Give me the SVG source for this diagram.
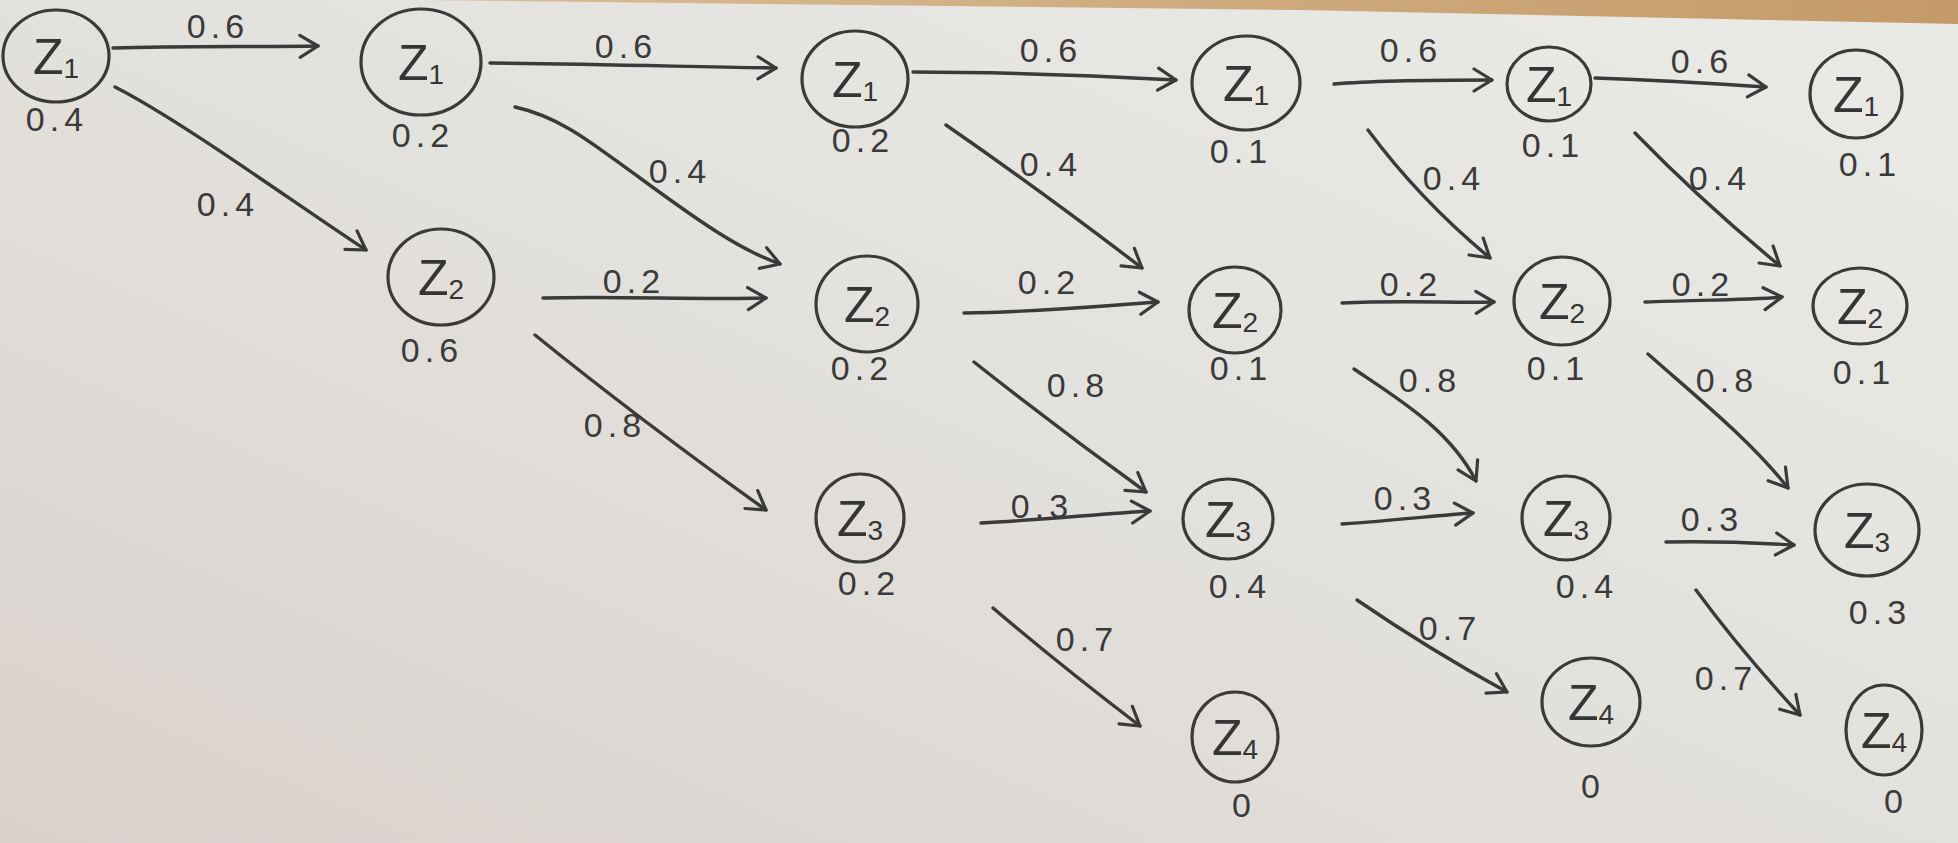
<svg xmlns="http://www.w3.org/2000/svg" width="1958" height="843" viewBox="0 0 1958 843">
<defs>
<linearGradient id="paper" x1="0" y1="1" x2="1" y2="0">
<stop offset="0" stop-color="#d9d1cc"/>
<stop offset="0.5" stop-color="#e3e1dd"/>
<stop offset="1" stop-color="#eaeae6"/>
</linearGradient>
<linearGradient id="wood" x1="0" y1="0" x2="1" y2="0">
<stop offset="0" stop-color="#d9bd95"/>
<stop offset="1" stop-color="#c49a68"/>
</linearGradient>
<marker id="head" markerUnits="userSpaceOnUse" markerWidth="28" markerHeight="28" viewBox="0 0 28 28" refX="23" refY="14" orient="auto">
<path d="M5,3 L23,14 L5,25" fill="none" stroke="#3a3a3a" stroke-width="3.2" stroke-linecap="round" stroke-linejoin="round"/>
</marker>
<style>
.node ellipse{fill:none;stroke:#3a3a3a;stroke-width:3.2}
.zt{font-family:"Liberation Sans","DejaVu Sans",sans-serif;font-size:50px;fill:#353535;text-anchor:middle}
.zt tspan{font-size:28px}
.lbl{font-family:"Liberation Sans","DejaVu Sans",sans-serif;font-size:34px;fill:#3a3a3a;text-anchor:middle;letter-spacing:5px}
.edge{fill:none;stroke:#3a3a3a;stroke-width:3.4;stroke-linecap:round;marker-end:url(#head)}
</style>
</defs>
<rect x="0" y="0" width="1958" height="843" fill="url(#paper)"/>
<polygon points="420,0 1958,0 1958,24 1300,10" fill="url(#wood)"/>

<g id="connectors">
<path class="edge" d="M113,48 C180,46 260,47 318,46"/>
<path class="edge" d="M490,63 C600,64 700,67 776,68"/>
<path class="edge" d="M913,72 C1000,72 1100,76 1176,80"/>
<path class="edge" d="M1334,84 C1380,80 1440,80 1492,80"/>
<path class="edge" d="M1595,78 C1650,80 1720,84 1766,87"/>
<path class="edge" d="M115,87 C180,120 290,200 366,250"/>
<path class="edge" d="M515,107 C565,118 600,150 640,178 C700,222 740,250 780,264"/>
<path class="edge" d="M946,125 Q1040,190 1142,268"/>
<path class="edge" d="M1368,130 Q1420,200 1490,258"/>
<path class="edge" d="M1635,133 Q1700,200 1780,266"/>
<path class="edge" d="M543,298 C620,296 700,300 766,298"/>
<path class="edge" d="M964,313 C1040,312 1100,306 1158,302"/>
<path class="edge" d="M1342,303 C1400,300 1450,303 1494,302"/>
<path class="edge" d="M1645,302 C1700,300 1750,300 1782,297"/>
<path class="edge" d="M535,335 Q640,420 766,510"/>
<path class="edge" d="M974,362 Q1060,430 1146,492"/>
<path class="edge" d="M1354,369 C1400,400 1450,430 1476,481"/>
<path class="edge" d="M1648,354 C1700,400 1750,440 1788,488"/>
<path class="edge" d="M981,523 C1040,520 1100,514 1150,511"/>
<path class="edge" d="M1342,524 C1400,520 1440,515 1473,513"/>
<path class="edge" d="M1666,542 C1720,541 1760,543 1794,545"/>
<path class="edge" d="M993,608 Q1060,665 1140,726"/>
<path class="edge" d="M1357,600 Q1430,650 1507,692"/>
<path class="edge" d="M1696,590 Q1740,650 1800,715"/>
<text class="lbl" x="218" y="38">0.6</text>
<text class="lbl" x="626" y="58">0.6</text>
<text class="lbl" x="1051" y="62">0.6</text>
<text class="lbl" x="1411" y="62">0.6</text>
<text class="lbl" x="1702" y="73">0.6</text>
<text class="lbl" x="228" y="216">0.4</text>
<text class="lbl" x="680" y="183">0.4</text>
<text class="lbl" x="1051" y="176">0.4</text>
<text class="lbl" x="1454" y="190">0.4</text>
<text class="lbl" x="1720" y="190">0.4</text>
<text class="lbl" x="634" y="293">0.2</text>
<text class="lbl" x="1049" y="294">0.2</text>
<text class="lbl" x="1411" y="296">0.2</text>
<text class="lbl" x="1703" y="296">0.2</text>
<text class="lbl" x="615" y="437">0.8</text>
<text class="lbl" x="1078" y="397">0.8</text>
<text class="lbl" x="1430" y="392">0.8</text>
<text class="lbl" x="1727" y="392">0.8</text>
<text class="lbl" x="1042" y="518">0.3</text>
<text class="lbl" x="1405" y="510">0.3</text>
<text class="lbl" x="1712" y="531">0.3</text>
<text class="lbl" x="1087" y="651">0.7</text>
<text class="lbl" x="1450" y="640">0.7</text>
<text class="lbl" x="1726" y="690">0.7</text>
</g>

<g id="c1z1" class="node"><ellipse cx="56" cy="56" rx="53" ry="46"/><text class="zt" x="56" y="74">Z<tspan dy="4">1</tspan></text><text class="lbl" x="57" y="131">0.4</text></g>
<g id="c2z1" class="node"><ellipse cx="421" cy="62" rx="60" ry="53"/><text class="zt" x="421" y="80">Z<tspan dy="4">1</tspan></text><text class="lbl" x="423" y="147">0.2</text></g>
<g id="c2z2" class="node"><ellipse cx="441" cy="277" rx="53" ry="48"/><text class="zt" x="441" y="295">Z<tspan dy="4">2</tspan></text><text class="lbl" x="432" y="362">0.6</text></g>
<g id="c3z1" class="node"><ellipse cx="855" cy="79" rx="53" ry="48"/><text class="zt" x="855" y="97">Z<tspan dy="4">1</tspan></text><text class="lbl" x="863" y="152">0.2</text></g>
<g id="c3z2" class="node"><ellipse cx="867" cy="304" rx="51" ry="48"/><text class="zt" x="867" y="322">Z<tspan dy="4">2</tspan></text><text class="lbl" x="862" y="380">0.2</text></g>
<g id="c3z3" class="node"><ellipse cx="860" cy="518" rx="44" ry="44"/><text class="zt" x="860" y="536">Z<tspan dy="4">3</tspan></text><text class="lbl" x="869" y="595">0.2</text></g>
<g id="c4z1" class="node"><ellipse cx="1246" cy="83" rx="54" ry="47"/><text class="zt" x="1246" y="101">Z<tspan dy="4">1</tspan></text><text class="lbl" x="1241" y="163">0.1</text></g>
<g id="c4z2" class="node"><ellipse cx="1235" cy="310" rx="46" ry="43"/><text class="zt" x="1235" y="328">Z<tspan dy="4">2</tspan></text><text class="lbl" x="1241" y="380">0.1</text></g>
<g id="c4z3" class="node"><ellipse cx="1228" cy="519" rx="45" ry="40"/><text class="zt" x="1228" y="537">Z<tspan dy="4">3</tspan></text><text class="lbl" x="1240" y="598">0.4</text></g>
<g id="c4z4" class="node"><ellipse cx="1235" cy="737" rx="43" ry="45"/><text class="zt" x="1235" y="755">Z<tspan dy="4">4</tspan></text><text class="lbl" x="1244" y="817">0</text></g>
<g id="c5z1" class="node"><ellipse cx="1549" cy="84" rx="42" ry="37"/><text class="zt" x="1549" y="102">Z<tspan dy="4">1</tspan></text><text class="lbl" x="1553" y="157">0.1</text></g>
<g id="c5z2" class="node"><ellipse cx="1562" cy="301" rx="48" ry="44"/><text class="zt" x="1562" y="319">Z<tspan dy="4">2</tspan></text><text class="lbl" x="1558" y="380">0.1</text></g>
<g id="c5z3" class="node"><ellipse cx="1566" cy="518" rx="44" ry="42"/><text class="zt" x="1566" y="536">Z<tspan dy="4">3</tspan></text><text class="lbl" x="1587" y="598">0.4</text></g>
<g id="c5z4" class="node"><ellipse cx="1591" cy="702" rx="49" ry="44"/><text class="zt" x="1591" y="720">Z<tspan dy="4">4</tspan></text><text class="lbl" x="1593" y="798">0</text></g>
<g id="c6z1" class="node"><ellipse cx="1856" cy="94" rx="46" ry="44"/><text class="zt" x="1856" y="112">Z<tspan dy="4">1</tspan></text><text class="lbl" x="1870" y="176">0.1</text></g>
<g id="c6z2" class="node"><ellipse cx="1860" cy="306" rx="47" ry="38"/><text class="zt" x="1860" y="324">Z<tspan dy="4">2</tspan></text><text class="lbl" x="1864" y="384">0.1</text></g>
<g id="c6z3" class="node"><ellipse cx="1867" cy="530" rx="52" ry="46"/><text class="zt" x="1867" y="548">Z<tspan dy="4">3</tspan></text><text class="lbl" x="1880" y="624">0.3</text></g>
<g id="c6z4" class="node"><ellipse cx="1884" cy="730" rx="38" ry="45"/><text class="zt" x="1884" y="748">Z<tspan dy="4">4</tspan></text><text class="lbl" x="1896" y="813">0</text></g>
</svg>
